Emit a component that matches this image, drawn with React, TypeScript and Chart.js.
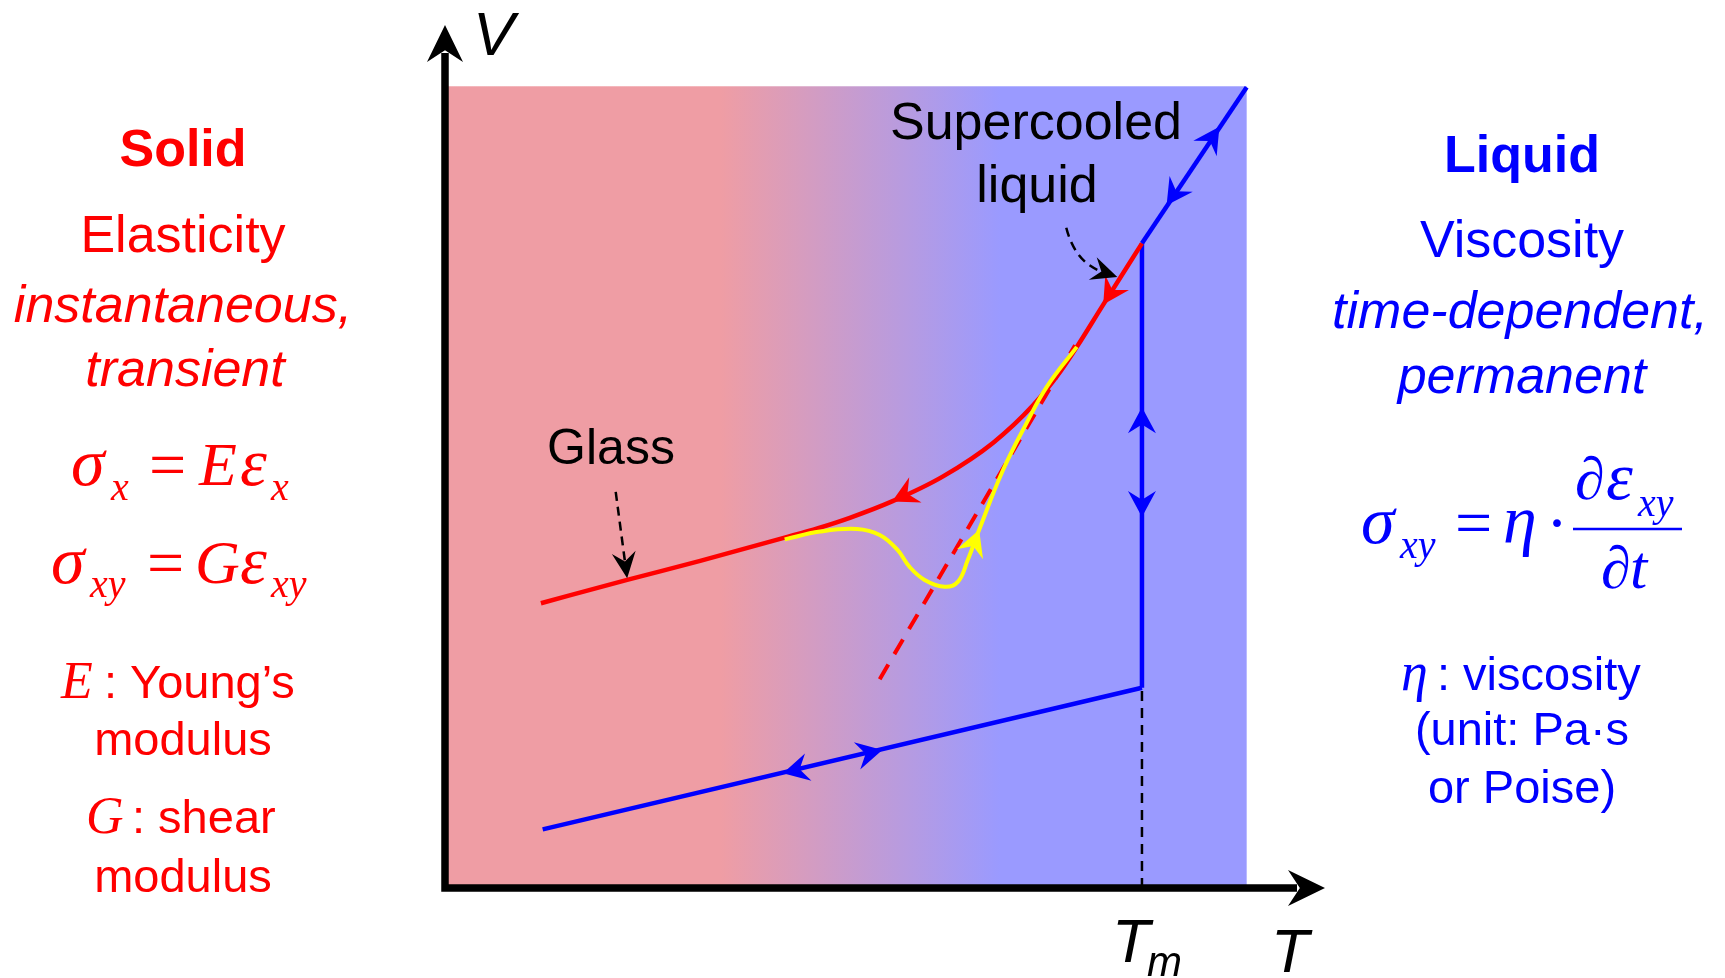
import React, { useEffect, useRef } from "react";
import { Chart, registerables } from "chart.js";

Chart.register(...registerables);

// ---------------- data (T and V in arbitrary units, 0–100) ----------------
const Tm = 79.2;
const glassT = [10.9, 20.7, 29.0, 38.6, 42.4, 46.0, 50.8, 56.6, 62.3, 66.8, 69.9, 71.8, 74.8, 79.2];
const glassV = [33.0, 35.7, 37.9, 40.6, 41.7, 42.9, 44.8, 47.7, 51.6, 55.9, 59.8, 62.7, 67.6, 74.7];
const relaxT = [38.6, 42.6, 46.8, 49.4, 51.4, 52.8, 54.5, 56.8, 58.3, 59.4, 60.7, 63.4, 66.1, 68.4, 71.8];
const relaxV = [40.4, 41.3, 41.6, 40.9, 39.2, 37.2, 35.7, 34.9, 35.5, 38.0, 41.5, 48.4, 53.9, 58.1, 62.7];
const liquidT = [Tm, 91.1];
const liquidV = [74.7, 92.8];
const meltT = [Tm, Tm];
const meltV = [74.7, 23.2];
const crystalT = [11.1, Tm];
const crystalV = [6.8, 23.2];
const extrapT = [49.4, 71.6];
const extrapV = [24.2, 62.9];
const guideT = [Tm, Tm];
const guideV = [0, 23.2];
const shadeT = [0, 91.1];
const shadeV = [0, 92.9];
const gradientT = [31.3, 63.1];

// direction arrows: tip and a point behind it on the same curve
const arrowCurve = ["glass", "glass", "relax", "liquid", "liquid", "melt", "melt", "crystal", "crystal"];
const arrowTipT = [50.8, 74.8, 60.7, 88.0, 82.0, Tm, Tm, 38.4, 49.7];
const arrowTipV = [44.8, 67.6, 41.5, 88.2, 79.1, 55.7, 43.0, 13.3, 16.0];
const arrowFromT = [56.6, Tm, 59.4, Tm, 91.1, Tm, Tm, Tm, 11.1];
const arrowFromV = [47.7, 74.7, 38.0, 74.7, 92.8, 23.2, 74.7, 23.2, 6.8];

// annotation pointers
const glassPointerT = [19.4, 20.7];
const glassPointerV = [45.9, 35.9];
const superPointerT = [70.6, 71.6, 76.4];
const superPointerV = [76.5, 72.5, 70.8];

// texts
const axisLabelV = "V";
const axisLabelT = "T";
const meltLabel = ["T", "m"];
const glassLabel = "Glass";
const superLabel = ["Supercooled", "liquid"];
const solidLines = ["Solid", "Elasticity", "instantaneous,", "transient"];
const liquidLines = ["Liquid", "Viscosity", "time-dependent,", "permanent"];
const solidNotes = [["E", ": Young\u2019s"], ["modulus"], ["G", ": shear"], ["modulus"]];
const liquidNotes = [["\u03B7", ": viscosity"], ["(unit: Pa\u00B7s"], ["or Poise)"]];

const COLORS: Record<string, string> = {
  glass: "#ff0000",
  relax: "#ffff00",
  liquid: "#0000ff",
  melt: "#0000ff",
  crystal: "#0000ff",
};

const SANS = "'Liberation Sans', Arial, sans-serif";
const SERIF = "'Liberation Serif', 'Times New Roman', serif";

function pts(xs: number[], ys: number[]) {
  return xs.map((x, i) => ({ x, y: ys[i] }));
}

function head(ctx: CanvasRenderingContext2D, tx: number, ty: number, dx: number, dy: number, L: number, W: number, notch: number, color: string) {
  const len = Math.hypot(dx, dy) || 1;
  const ux = dx / len, uy = dy / len;
  const nx = -uy, ny = ux;
  ctx.beginPath();
  ctx.moveTo(tx, ty);
  ctx.lineTo(tx - L * ux + W * nx, ty - L * uy + W * ny);
  ctx.lineTo(tx - notch * L * ux, ty - notch * L * uy);
  ctx.lineTo(tx - L * ux - W * nx, ty - L * uy - W * ny);
  ctx.closePath();
  ctx.fillStyle = color;
  ctx.fill();
}

function txt(ctx: CanvasRenderingContext2D, s: string, x: number, y: number, font: string, color: string, align: CanvasTextAlign = "center") {
  ctx.font = font;
  ctx.fillStyle = color;
  ctx.textAlign = align;
  ctx.textBaseline = "alphabetic";
  ctx.fillText(s, x, y);
}

const diagramPlugin = {
  id: "diagram",
  beforeDatasetsDraw(chart: any) {
    const { ctx, scales } = chart;
    const xs = scales.x, ys = scales.y;
    const x0 = xs.getPixelForValue(shadeT[0]);
    const x1 = xs.getPixelForValue(shadeT[1]);
    const y0 = ys.getPixelForValue(shadeV[0]);
    const y1 = ys.getPixelForValue(shadeV[1]);
    const g = ctx.createLinearGradient(xs.getPixelForValue(gradientT[0]), 0, xs.getPixelForValue(gradientT[1]), 0);
    g.addColorStop(0, "rgb(239,157,164)");
    g.addColorStop(1, "rgb(154,154,255)");
    ctx.save();
    ctx.fillStyle = g;
    ctx.fillRect(x0, y1, x1 - x0, y0 - y1);
    ctx.restore();
  },
  afterDatasetsDraw(chart: any) {
    const { ctx, scales } = chart;
    const xs = scales.x, ys = scales.y;
    const px = (v: number) => xs.getPixelForValue(v);
    const py = (v: number) => ys.getPixelForValue(v);
    ctx.save();

    // direction arrows on curves
    arrowCurve.forEach((c, i) => {
      const tx = px(arrowTipT[i]), ty = py(arrowTipV[i]);
      const fx = px(arrowFromT[i]), fy = py(arrowFromV[i]);
      head(ctx, tx, ty, tx - fx, ty - fy, 26, 14, 0.66, COLORS[c]);
    });

    // axes
    const ox = px(0), oy = py(0);
    const topY = py(100), rightX = px(100);
    ctx.strokeStyle = "#000";
    ctx.lineWidth = 7.5;
    ctx.lineCap = "butt";
    ctx.beginPath();
    ctx.moveTo(ox, oy + 3.75);
    ctx.lineTo(ox, topY + 28);
    ctx.moveTo(ox - 3.75, oy);
    ctx.lineTo(rightX - 28, oy);
    ctx.stroke();
    head(ctx, ox, topY, 0, -1, 37, 18, 0.68, "#000");
    head(ctx, rightX, oy, 1, 0, 37, 18, 0.68, "#000");

    // glass pointer (dashed)
    ctx.lineWidth = 2.5;
    ctx.setLineDash([9, 6]);
    const gx0 = px(glassPointerT[0]), gy0 = py(glassPointerV[0]);
    const gx1 = px(glassPointerT[1]), gy1 = py(glassPointerV[1]);
    const gl = Math.hypot(gx1 - gx0, gy1 - gy0);
    ctx.beginPath();
    ctx.moveTo(gx0, gy0);
    ctx.lineTo(gx1 - ((gx1 - gx0) / gl) * 16, gy1 - ((gy1 - gy0) / gl) * 16);
    ctx.stroke();
    ctx.setLineDash([]);
    head(ctx, gx1, gy1, gx1 - gx0, gy1 - gy0, 26, 12, 0.65, "#000");

    // supercooled pointer (dashed curved)
    const sx0 = px(superPointerT[0]), sy0 = py(superPointerV[0]);
    const scx = px(superPointerT[1]), scy = py(superPointerV[1]);
    const sx1 = px(superPointerT[2]), sy1 = py(superPointerV[2]);
    const sl = Math.hypot(sx1 - scx, sy1 - scy);
    ctx.setLineDash([9, 6]);
    ctx.beginPath();
    ctx.moveTo(sx0, sy0);
    ctx.quadraticCurveTo(scx, scy, sx1 - ((sx1 - scx) / sl) * 16, sy1 - ((sy1 - scy) / sl) * 16);
    ctx.stroke();
    ctx.setLineDash([]);
    head(ctx, sx1, sy1, sx1 - scx, sy1 - scy, 26, 12, 0.65, "#000");

    // labels inside diagram
    txt(ctx, glassLabel, 611, 464, `50px ${SANS}`, "#000");
    txt(ctx, superLabel[0], 1036, 139, `52px ${SANS}`, "#000");
    txt(ctx, superLabel[1], 1037, 202, `52px ${SANS}`, "#000");

    // axis labels
    txt(ctx, axisLabelV, 473, 55, `italic 62px ${SANS}`, "#000", "left");
    txt(ctx, axisLabelT, 1271, 972, `italic 62px ${SANS}`, "#000", "left");
    txt(ctx, meltLabel[0], 1112, 962, `italic 62px ${SANS}`, "#000", "left");
    txt(ctx, meltLabel[1], 1147, 976, `italic 42px ${SANS}`, "#000", "left");

    // ----- left panel (solid) -----
    const R = "#ff0000";
    txt(ctx, solidLines[0], 183, 166, `bold 52px ${SANS}`, R);
    txt(ctx, solidLines[1], 183, 252, `52px ${SANS}`, R);
    txt(ctx, solidLines[2], 183, 322, `italic 52px ${SANS}`, R);
    txt(ctx, solidLines[3], 185, 386, `italic 52px ${SANS}`, R);

    const big = `italic 68px ${SERIF}`;
    const cap = `italic 62px ${SERIF}`;
    const sub = `italic 40px ${SERIF}`;
    const eq = `66px ${SERIF}`;
    // sigma_x = E eps_x
    txt(ctx, "\u03C3", 71, 485, big, R, "left");
    txt(ctx, "x", 111, 500, sub, R, "left");
    txt(ctx, "=", 149, 487, eq, R, "left");
    txt(ctx, "E", 199, 485, cap, R, "left");
    txt(ctx, "\u03B5", 240, 485, big, R, "left");
    txt(ctx, "x", 271, 500, sub, R, "left");
    // sigma_xy = G eps_xy
    txt(ctx, "\u03C3", 51, 583, big, R, "left");
    txt(ctx, "xy", 90, 597, sub, R, "left");
    txt(ctx, "=", 147, 585, eq, R, "left");
    txt(ctx, "G", 195, 583, cap, R, "left");
    txt(ctx, "\u03B5", 240, 583, big, R, "left");
    txt(ctx, "xy", 271, 597, sub, R, "left");

    txt(ctx, solidNotes[0][0], 61, 698, `italic 52px ${SERIF}`, R, "left");
    txt(ctx, solidNotes[0][1], 104, 698, `47px ${SANS}`, R, "left");
    txt(ctx, solidNotes[1][0], 183, 755, `47px ${SANS}`, R);
    txt(ctx, solidNotes[2][0], 86, 833, `italic 52px ${SERIF}`, R, "left");
    txt(ctx, solidNotes[2][1], 132, 833, `47px ${SANS}`, R, "left");
    txt(ctx, solidNotes[3][0], 183, 892, `47px ${SANS}`, R);

    // ----- right panel (liquid) -----
    const B = "#0000ff";
    txt(ctx, liquidLines[0], 1522, 172, `bold 52px ${SANS}`, B);
    txt(ctx, liquidLines[1], 1522, 257, `52px ${SANS}`, B);
    txt(ctx, liquidLines[2], 1520, 328, `italic 52px ${SANS}`, B);
    txt(ctx, liquidLines[3], 1522, 393, `italic 52px ${SANS}`, B);

    txt(ctx, "\u03C3", 1361, 543, big, B, "left");
    txt(ctx, "xy", 1400, 558, sub, B, "left");
    txt(ctx, "=", 1455, 545, eq, B, "left");
    txt(ctx, "\u03B7", 1503, 543, big, B, "left");
    txt(ctx, "\u00B7", 1546, 545, eq, B, "left");
    ctx.strokeStyle = B;
    ctx.lineWidth = 2.5;
    ctx.beginPath();
    ctx.moveTo(1573, 529);
    ctx.lineTo(1682, 529);
    ctx.stroke();
    txt(ctx, "\u2202", 1575, 499, `italic 60px ${SERIF}`, B, "left");
    txt(ctx, "\u03B5", 1606, 499, big, B, "left");
    txt(ctx, "xy", 1638, 516, sub, B, "left");
    txt(ctx, "\u2202", 1601, 588, `italic 60px ${SERIF}`, B, "left");
    txt(ctx, "t", 1630, 588, `italic 62px ${SERIF}`, B, "left");

    txt(ctx, liquidNotes[0][0], 1401, 690, `italic 54px ${SERIF}`, B, "left");
    txt(ctx, liquidNotes[0][1], 1437, 690, `47px ${SANS}`, B, "left");
    txt(ctx, liquidNotes[1][0], 1522, 745, `47px ${SANS}`, B);
    txt(ctx, liquidNotes[2][0], 1522, 803, `47px ${SANS}`, B);

    ctx.restore();
  },
};

export default function App() {
  const ref = useRef<HTMLCanvasElement | null>(null);
  useEffect(() => {
    if (!ref.current) return;
    const chart = new Chart(ref.current, {
      type: "scatter",
      data: {
        datasets: [
          { label: "relaxation", data: pts(relaxT, relaxV), showLine: true, borderColor: "#ffff00", borderWidth: 4, pointRadius: 0, tension: 0.4, clip: false } as any,
          { label: "glass", data: pts(glassT, glassV), showLine: true, borderColor: "#ff0000", borderWidth: 4.5, pointRadius: 0, cubicInterpolationMode: "monotone", clip: false } as any,
          { label: "extrapolation", data: pts(extrapT, extrapV), showLine: true, borderColor: "#ff0000", borderWidth: 4, borderDash: [17, 12], pointRadius: 0, clip: false } as any,
          { label: "liquid", data: pts(liquidT, liquidV), showLine: true, borderColor: "#0000ff", borderWidth: 4.5, pointRadius: 0, clip: false } as any,
          { label: "melting", data: pts(meltT, meltV), showLine: true, borderColor: "#0000ff", borderWidth: 4.5, pointRadius: 0, clip: false } as any,
          { label: "crystal", data: pts(crystalT, crystalV), showLine: true, borderColor: "#0000ff", borderWidth: 4.5, pointRadius: 0, clip: false } as any,
          { label: "Tm", data: pts(guideT, guideV), showLine: true, borderColor: "#000000", borderWidth: 2.5, borderDash: [10, 7], pointRadius: 0, clip: false } as any,
        ],
      },
      options: {
        responsive: false,
        animation: false,
        devicePixelRatio: 1,
        layout: { padding: { left: 445, right: 400, top: 25, bottom: 90 } },
        scales: {
          x: { type: "linear", min: 0, max: 100, display: false },
          y: { type: "linear", min: 0, max: 100, display: false },
        },
        plugins: { legend: { display: false }, tooltip: { enabled: false } },
        events: [],
      },
      plugins: [diagramPlugin],
    });
    return () => chart.destroy();
  }, []);
  return (
    <div style={{ position: "absolute", left: 0, top: 0, width: 1725, height: 978, background: "#fff" }}>
      <canvas ref={ref} width={1725} height={978} style={{ display: "block" }} />
    </div>
  );
}
